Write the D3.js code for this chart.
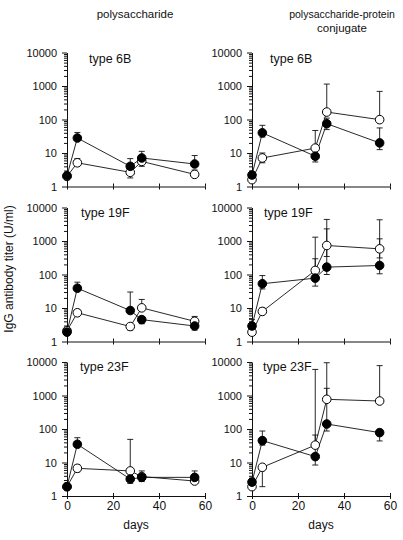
<!DOCTYPE html>
<html>
<head>
<meta charset="utf-8">
<script src="https://cdn.jsdelivr.net/npm/d3@7/dist/d3.min.js"></script>
<style>
  html, body { margin: 0; padding: 0; background: #fff; }
  svg { display: block; }
  text { font-family: "Liberation Sans", Arial, sans-serif; fill: #111; }
</style>
</head>
<body>
<svg id="chart" width="403" height="540"></svg>
<script>
// ---------------- data ----------------
const days = [0, 4.5, 27.5, 32.5, 55.5];
const columnTitles = [["polysaccharide"], ["polysaccharide-protein", "conjugate"]];
const serotypes = ["type 6B", "type 19F", "type 23F"];
const yTickValues = [1, 10, 100, 1000, 10000];
const xTickValues = [0, 20, 40, 60];
const xLabel = "days";
const yLabel = "IgG antibody titer (U/ml)";

// panel order: 6B poly, 6B conj, 19F poly, 19F conj, 23F poly, 23F conj
const filledGMT = [
  [2.1, 28, 4.0, 7.1, 4.7],
  [2.2, 40, 8.0, 75, 20],
  [1.9, 39, 8.4, 4.5, 2.9],
  [2.9, 53, 78, 166, 186],
  [1.9, 35, 3.2, 3.6, 3.6],
  [2.6, 45, 15, 141, 78]
];
const filledHi = [
  [null, 41, 6.8, 11.2, 8.4],
  [null, 67, null, 110, 56],
  [null, 59, 30, null, null],
  [4.5, 93, 295, 2300, 1160],
  [null, 55, null, null, 5.6],
  [3.4, 87, 66, 1640, null]
];
const filledLo = [
  [null, null, null, null, null],
  [null, 30, 5.4, 50, 12.6],
  [null, null, null, 3.4, 2.2],
  [null, 37, 45, 100, 105],
  [null, null, 2.4, null, null],
  [null, 33, 8.4, 87, 44]
];
const openGMT = [
  [2.0, 5.1, 2.65, 5.6, 2.3],
  [1.6, 7.1, 14, 167, 99],
  [2.1, 7.2, 2.8, 10.1, 4.0],
  [1.9, 7.9, 132, 734, 583],
  [1.9, 6.7, 5.6, 3.8, 2.8],
  [1.9, 7.2, 33, 769, 685]
];
const openHi = [
  [null, 6.8, null, null, 3.1],
  [null, 10, 47, 1140, 690],
  [null, 9, null, 18, 5.6],
  [null, 10, 1300, 4400, 4300],
  [null, 8.4, 49, 5.6, null],
  [null, null, 6000, 9500, 7800]
];
const openLo = [
  [null, 4.2, 1.8, 4.0, null],
  [null, 5.1, null, null, null],
  [null, null, 2.2, null, null],
  [null, null, null, 345, 313],
  [null, 5.3, null, 2.7, 2.4],
  [null, 1.9, null, null, null]
];

// ---------------- layout ----------------
const svg = d3.select("#chart");
const colX = [67, 252];
const rowY = [52.5, 207.5, 362];
const panelW = 138, panelH = 134;
const labelPos = [[22, 10], [18, 10], [14, 9.5], [12, 9.5], [13, 9], [11, 9]];
const r = 4.3, capW = 3;

// titles
columnTitles.forEach((lines, c) => {
  const cx = c === 0 ? 135 : 342;
  lines.forEach((t, i) => {
    svg.append("text").attr("x", cx).attr("y", 18 + i * 14)
      .attr("text-anchor", "middle").attr("font-size", c === 1 && i === 0 ? 10.5 : 11.5).text(t);
  });
});

// y label
svg.append("text")
  .attr("transform", "translate(13,269) rotate(-90)")
  .attr("text-anchor", "middle").attr("font-size", 12).text(yLabel);

const minorTicks = [];
[1, 10, 100, 1000].forEach(d => { for (let k = 2; k <= 9; k++) minorTicks.push(d * k); });

for (let p = 0; p < 6; p++) {
  const row = Math.floor(p / 2), col = p % 2;
  const x0 = colX[col], y0 = rowY[row];
  const x = d3.scaleLinear().domain([0, 60]).range([x0, x0 + panelW]);
  const y = d3.scaleLog().domain([1, 10000]).range([y0 + panelH, y0]);
  const g = svg.append("g");

  // y axis minor
  g.append("g").attr("transform", `translate(${x0},0)`)
    .call(d3.axisLeft(y).tickValues(minorTicks).tickSize(3).tickFormat(""))
    .call(a => a.select(".domain").remove());
  // y axis major
  g.append("g").attr("transform", `translate(${x0},0)`)
    .call(d3.axisLeft(y).tickValues(yTickValues).tickSize(5).tickPadding(5)
      .tickFormat(d3.format("d")).tickSizeOuter(0))
    .call(a => a.selectAll("text").attr("font-size", 11).attr("font-family", "Liberation Sans, Arial, sans-serif").attr("fill", "#111"));

  // x axis (crossing ticks)
  const xa = g.append("g").attr("transform", `translate(0,${y0 + panelH})`);
  xa.call(d3.axisBottom(x).tickValues(xTickValues).tickSize(3).tickPadding(2.5).tickSizeOuter(0)
      .tickFormat(row === 2 ? d3.format("d") : ""))
    .call(a => a.selectAll("text").attr("font-size", 12).attr("font-family", "Liberation Sans, Arial, sans-serif").attr("fill", "#111"));
  xa.selectAll(".tick").append("line").attr("y2", -3).attr("stroke", "currentColor");

  g.selectAll(".domain, .tick line").attr("stroke", "#111").attr("stroke-width", 1);

  if (row === 2) {
    g.append("text").attr("x", x(30)).attr("y", 529).attr("text-anchor", "middle")
      .attr("font-size", 12).text(xLabel);
  }

  // panel label
  g.append("text").attr("x", x0 + labelPos[p][0]).attr("y", y0 + labelPos[p][1])
    .attr("font-size", 12.5).text(serotypes[row]);

  const series = [
    { v: openGMT[p], hi: openHi[p], lo: openLo[p], fill: "#fff" },
    { v: filledGMT[p], hi: filledHi[p], lo: filledLo[p], fill: "#000" }
  ];
  const line = d3.line().x((d, i) => x(days[i])).y(d => y(d));

  series.forEach(s => {
    g.append("path").attr("d", line(s.v)).attr("fill", "none")
      .attr("stroke", "#111").attr("stroke-width", 0.9);
  });
  series.forEach(s => {
    s.v.forEach((v, i) => {
      [s.hi[i], s.lo[i]].forEach(e => {
        if (e == null) return;
        const cx = x(days[i]);
        g.append("line").attr("x1", cx).attr("x2", cx).attr("y1", y(v)).attr("y2", y(e))
          .attr("stroke", "#111").attr("stroke-width", 0.9);
        g.append("line").attr("x1", cx - capW).attr("x2", cx + capW).attr("y1", y(e)).attr("y2", y(e))
          .attr("stroke", "#111").attr("stroke-width", 0.9);
      });
    });
  });
  series.forEach(s => {
    g.selectAll(null).data(s.v).enter().append("circle")
      .attr("cx", (d, i) => x(days[i])).attr("cy", d => y(d)).attr("r", r)
      .attr("fill", s.fill).attr("stroke", "#000").attr("stroke-width", 1);
  });
}
</script>
</body>
</html>
